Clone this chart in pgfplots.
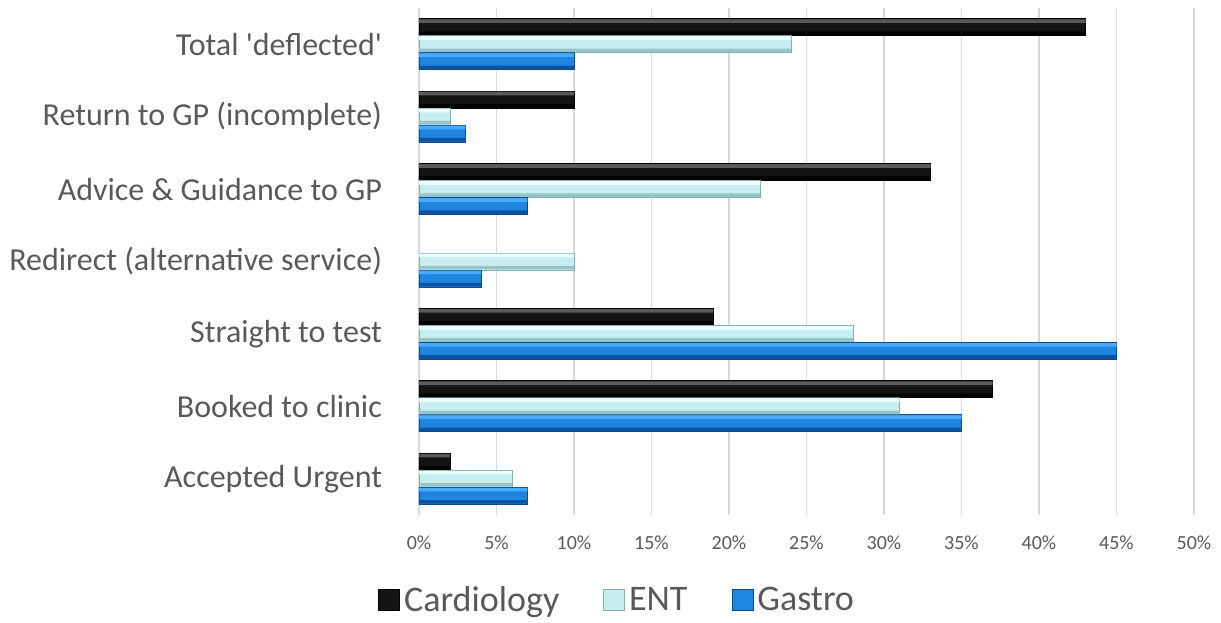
\documentclass[border=0pt]{standalone}
\usepackage{pgfplots}
\pgfplotsset{compat=1.18}
\usepackage{pgfplotstable}
\usepackage{fontspec}
\setmainfont{Carlito}
\definecolor{txt}{HTML}{595959}
\definecolor{gridc}{HTML}{D9D9D9}
\definecolor{entT}{HTML}{EAFFFF}
\definecolor{entM}{HTML}{C6EEF0}
\definecolor{entB}{HTML}{97C4C7}
\definecolor{entD}{HTML}{86AEB1}
\definecolor{gasT}{HTML}{47ABFF}
\definecolor{gasM}{HTML}{1F86E0}
\definecolor{gasB}{HTML}{0D52A0}
\definecolor{gasD}{HTML}{0D4A8A}
\definecolor{carT}{HTML}{5A5A5A}
\definecolor{carM}{HTML}{141414}
\definecolor{carB}{HTML}{000000}
\pgfplotstableread{
y card ent gastro
6 43 24 10
5 10 2 3
4 33 22 7
3 nan 10 4
2 19 28 45
1 37 31 35
0 2 6 7
}\data
\begin{document}
\begin{tikzpicture}
\path[use as bounding box] (0,0) rectangle (610.5pt,311pt);
\begin{axis}[
  at={(209.5pt,53.5pt)}, anchor=south west,
  scale only axis, width=387.5pt, height=253.5pt,
  xmin=0, xmax=50, ymin=-0.5, ymax=6.5,
  xbar, bar width=8.5pt,
  xtick={0,5,...,50},
  xticklabels={0\%,5\%,10\%,15\%,20\%,25\%,30\%,35\%,40\%,45\%,50\%},
  ytick={0,1,2,3,4,5,6},
  yticklabels={Accepted Urgent,Booked to clinic,Straight to test,Redirect (alternative service),Advice \& Guidance to GP,Return to GP (incomplete),Total \textquotesingle deflected\textquotesingle},
  xmajorgrids, grid style={draw=gridc, line width=0.75pt},
  axis line style={draw=none},
  major tick length=0pt,
  unbounded coords=discard,
  xticklabel style={font=\fontsize{10}{12}\selectfont, text=txt, yshift=-7pt},
  yticklabel style={font=\fontsize{16}{19}\selectfont, text=txt, xshift=-15pt},
  legend columns=3,
  legend style={draw=none, fill=none, at={(0.257,-0.168)}, anchor=center,
    font=\fontsize{18}{21}\selectfont, text=txt,
    /tikz/every even column/.append style={column sep=20pt}},
  legend image code/.code={\path[#1] (0pt,-5pt) rectangle (10.5pt,5.5pt);},
]
\addplot[bar shift=8.5pt, draw=black, fill=carM] table[x=card,y=y] {\data};
\addplot[bar shift=0pt, draw=entD, fill=entM] table[x=ent,y=y] {\data};
\addplot[bar shift=-8.5pt, draw=gasD, fill=gasM] table[x=gastro,y=y] {\data};
\legend{Cardiology,ENT,Gastro}
% bevel highlight bands
\addplot[forget plot, bar width=1.8pt, bar shift=11.55pt, draw=none, fill=carT] table[x=card,y=y] {\data};
\addplot[forget plot, bar width=1.8pt, bar shift=5.45pt, draw=none, fill=carB] table[x=card,y=y] {\data};
\addplot[forget plot, bar width=1.8pt, bar shift=3.05pt, draw=none, fill=entT] table[x=ent,y=y] {\data};
\addplot[forget plot, bar width=1.8pt, bar shift=-3.05pt, draw=none, fill=entB] table[x=ent,y=y] {\data};
\addplot[forget plot, bar width=1.8pt, bar shift=-5.45pt, draw=none, fill=gasT] table[x=gastro,y=y] {\data};
\addplot[forget plot, bar width=1.8pt, bar shift=-11.55pt, draw=none, fill=gasB] table[x=gastro,y=y] {\data};
\end{axis}
\end{tikzpicture}
\end{document}
